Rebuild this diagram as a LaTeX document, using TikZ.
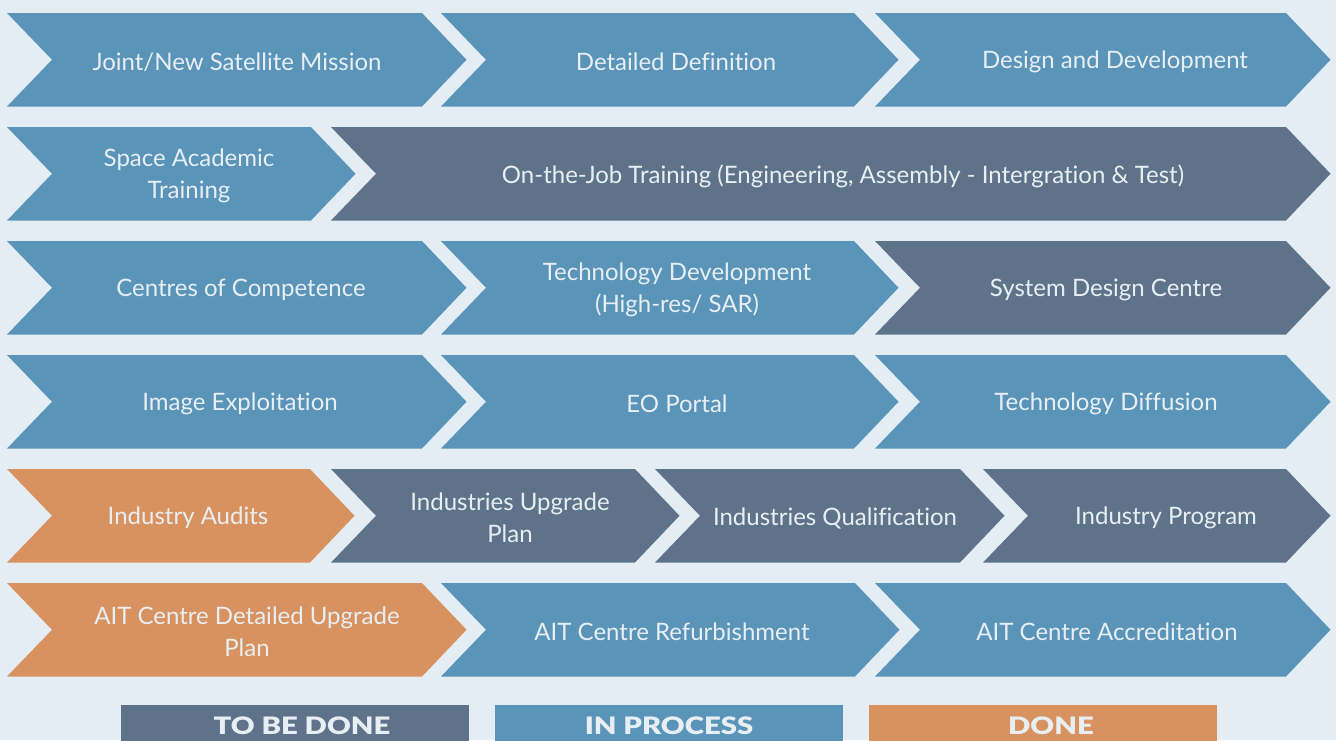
\documentclass[tikz,border=0pt]{standalone}
\usepackage{graphicx}
\usepackage{fontspec}
\setmainfont{Lato}[Ligatures=NoCommon]
\newfontfamily\legfont{Lato Black}
\definecolor{bgc}{HTML}{E4EDF3}
\definecolor{inproc}{HTML}{5A94B8}
\definecolor{tobedone}{HTML}{5E7389}
\definecolor{donec}{HTML}{D8925F}
\definecolor{txtc}{HTML}{E8EFF4}
\tikzset{
  lbl/.style={text=txtc, font=\fontsize{24}{32}\selectfont, align=center, inner sep=0pt},
  leglbl/.style={text=txtc, font=\legfont\fontsize{24}{26}\selectfont, inner sep=0pt},
}
\newcommand\legtext[1]{\scalebox{1.22}[1]{#1}}
% #1 left x, #2 right(top) x, #3 top y, #4 colour
\newcommand\chevshape[4]{%
  \fill[#4] (#1,#3) -- (#2,#3) -- ({#2+44.5},{#3+46.75}) -- (#2,{#3+93.5}) -- (#1,{#3+93.5}) -- ({#1+45},{#3+46.75}) -- cycle;}
\begin{document}
\begin{tikzpicture}[x=1pt,y=-1pt]
\useasboundingbox (0,0) rectangle (1336,740);
\fill[bgc] (0,0) rectangle (1336,740);
% Row 1
\chevshape{7}{422}{13}{inproc}
\chevshape{441}{854}{13}{inproc}
\chevshape{875}{1286}{13}{inproc}
\node[lbl] (r1a) at (237,62) {Joint/New Satellite Mission};
\node[lbl] (r1b) at (676,62) {Detailed Definition};
\node[lbl] (r1c) at (1115,62) {Design and Development};
% Row 2
\chevshape{7}{311}{127}{inproc}
\chevshape{331}{1286}{127}{tobedone}
\node[lbl] (r2a) at (189,176) {Space Academic\\Training};
\node[lbl] (r2b) at (843,176) {On-the-Job Training (Engineering, Assembly - Intergration \& Test)};
% Row 3
\chevshape{7}{422}{241}{inproc}
\chevshape{441}{854}{241}{inproc}
\chevshape{875}{1286}{241}{tobedone}
\node[lbl] (r3a) at (241,290) {Centres of Competence};
\node[lbl] (r3b) at (677,290) {Technology Development\\(High-res/ SAR)};
\node[lbl] (r3c) at (1106,290) {System Design Centre};
% Row 4
\chevshape{7}{422}{355}{inproc}
\chevshape{441}{854}{355}{inproc}
\chevshape{875}{1286}{355}{inproc}
\node[lbl] (r4a) at (240,404) {Image Exploitation};
\node[lbl] (r4b) at (677,404) {EO Portal};
\node[lbl] (r4c) at (1106,404) {Technology Diffusion};
% Row 5
\chevshape{7}{310}{469}{donec}
\chevshape{331}{635}{469}{tobedone}
\chevshape{655}{960}{469}{tobedone}
\chevshape{983}{1286}{469}{tobedone}
\node[lbl] (r5a) at (188,518) {Industry Audits};
\node[lbl] (r5b) at (510,518) {Industries Upgrade\\Plan};
\node[lbl] (r5c) at (835,518) {Industries Qualification};
\node[lbl] (r5d) at (1166,518) {Industry Program};
% Row 6
\chevshape{7}{422}{583}{donec}
\chevshape{441}{855}{583}{inproc}
\chevshape{875}{1286}{583}{inproc}
\node[lbl] (r6a) at (247,632) {AIT Centre Detailed Upgrade\\Plan};
\node[lbl] (r6b) at (672,632) {AIT Centre Refurbishment};
\node[lbl] (r6c) at (1107,632) {AIT Centre Accreditation};
% Legend
\fill[tobedone] (121,705) rectangle (469,745);
\fill[inproc] (495,705) rectangle (843,745);
\fill[donec] (869,705) rectangle (1217,745);
\node[leglbl] (lg1) at (302,726) {\legtext{TO BE DONE}};
\node[leglbl] (lg2) at (669,726) {\legtext{IN PROCESS}};
\node[leglbl] (lg3) at (1051,726) {\legtext{DONE}};
\end{tikzpicture}
\end{document}
